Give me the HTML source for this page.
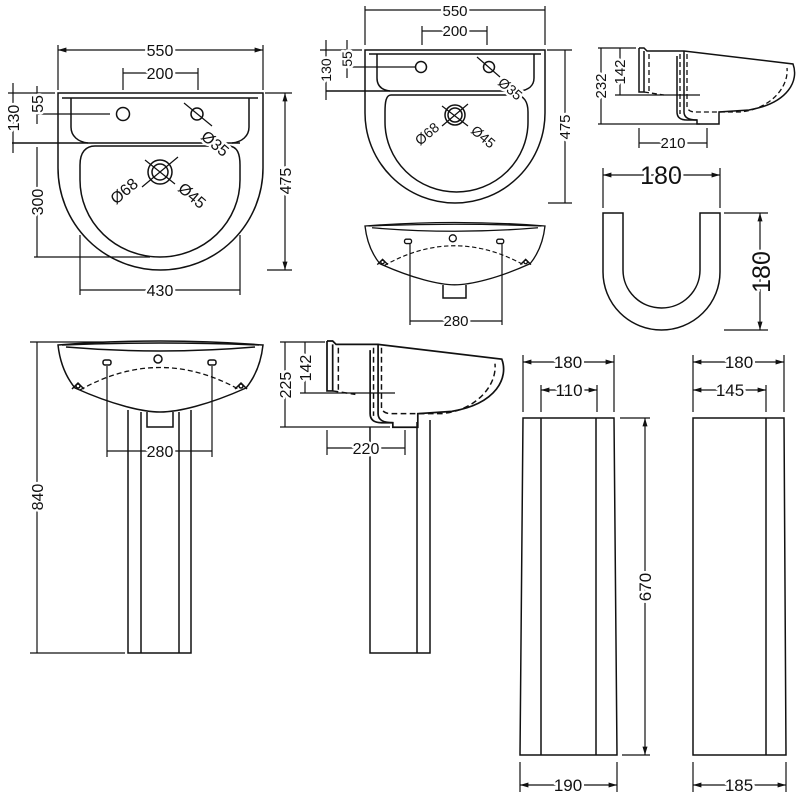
<!DOCTYPE html>
<html><head><meta charset="utf-8"><style>
html,body{margin:0;padding:0;background:#fff}
svg{display:block}
text{font-family:"Liberation Sans",Arial,sans-serif;font-size:16px;fill:#111;paint-order:stroke;stroke:#fff;stroke-width:5px;stroke-linejoin:round}
.l{fill:none;stroke:#111;stroke-width:1.5}
.d{fill:none;stroke:#111;stroke-width:1.3;stroke-dasharray:5 3}
.dim{fill:none;stroke:#111;stroke-width:1.2}
</style></head><body>
<svg width="800" height="800" viewBox="0 0 800 800" xmlns="http://www.w3.org/2000/svg">
<defs>
<marker id="a" viewBox="0 0 10 10" refX="10" refY="5" markerWidth="7" markerHeight="7" orient="auto-start-reverse"><path d="M0,2 L10,5 L0,8 Z" fill="#111"/></marker>
<g id="front">
 <path class="l" d="M0,0 C2,18 8,32 17,43 C55,60 85,67 102,67 C120,67 150,60 188,43 C197,32 203,18 205,0 Q102,-8 0,0 Z"/>
 <path class="l" d="M8,2 Q102,10 197,2"/>
 <path class="l" d="M4,0 Q102,-4 201,0"/>
 <rect class="l" x="45" y="15" width="8" height="5" rx="2"/>
 <rect class="l" x="150" y="15" width="8" height="5" rx="2"/>
 <circle class="l" cx="100" cy="14" r="4"/>
 <path class="d" d="M22,45 Q102,0 182,45"/>
 <path class="l" d="M14,44 L20,38 L26,44 M177,44 L183,38 L189,44"/>
 <circle class="l" cx="20" cy="41" r="2"/><circle class="l" cx="183" cy="41" r="2"/>
</g>
<g id="side">
 <path class="l" d="M0,0 H5 L8,3 H45 L154,16 C160,32 150,55 110,62 L80,64 V76 H58 V72 H48 C40,72 38,68 38,64 V8"/>
 <path class="l" d="M0,0 V44 H5 V3"/>
 <path class="l" d="M45,3 V64 C45,70 50,72 58,72"/>
 <path class="d" d="M10,6 V44 M48,6 V58 C48,62 52,64 56,64 H100 C130,62 150,40 148,20 M41,6 V66 M5,44 L25,47"/>
</g>
</defs>

<!-- ===== Panel 1 ===== -->
<path class="l" d="M58,93 H263 V168 A102.5,102 0 0 1 58,168 Z"/>
<path class="l" d="M62,98 H258"/>
<path class="l" d="M71,98 V127 C71,136 78,142 88,143 M249,98 V127 C249,136 242,142 232,143"/>
<path class="l" d="M12,143 H240"/>
<path class="l" d="M95,146 H228 C238,146 240,155 240,165 V180 A80,77 0 0 1 80,180 V165 C80,152 86,146 95,146 Z"/>
<circle class="l" cx="123" cy="114" r="6.5"/>
<circle class="l" cx="197" cy="114" r="6"/>
<path class="dim" d="M184,103 L212,126"/>
<circle class="l" cx="160" cy="172" r="12"/><circle class="l" cx="160" cy="172" r="8"/>
<path class="dim" d="M145,160 L175,184 M178,157 L142,187"/>
<text x="200" y="138" transform="rotate(40 200 138)">Ø35</text>
<text x="116" y="205" transform="rotate(-40 116 205)">Ø68</text>
<text x="177" y="190" transform="rotate(40 177 190)">Ø45</text>
<path class="dim" d="M58,45 V90 M263,45 V90 M123,68 V90 M198,68 V90"/>
<line class="dim" x1="58" y1="50" x2="263" y2="50" marker-start="url(#a)" marker-end="url(#a)"/>
<text x="160" y="56" text-anchor="middle">550</text>
<line class="dim" x1="123" y1="73" x2="198" y2="73"/>
<text x="160" y="79" text-anchor="middle">200</text>
<path class="dim" d="M265,93 H292 M267,270 H292"/>
<line class="dim" x1="285" y1="93" x2="285" y2="270" marker-start="url(#a)" marker-end="url(#a)"/>
<text x="291" y="181" text-anchor="middle" transform="rotate(-90 291 181)">475</text>
<path class="dim" d="M13,83 V153 M8,93 H55 M37,86 V124 M37,114 H110 M37,147 V257 M34,257 H150 M80,235 V295 M240,235 V295"/>
<text x="19" y="118" text-anchor="middle" transform="rotate(-90 19 118)">130</text>
<text x="43" y="104" text-anchor="middle" transform="rotate(-90 43 104)">55</text>
<text x="43" y="202" text-anchor="middle" transform="rotate(-90 43 202)">300</text>
<line class="dim" x1="80" y1="290" x2="240" y2="290"/>
<text x="160" y="296" text-anchor="middle">430</text>

<!-- ===== Panel 2 ===== -->
<path class="l" d="M365,50 H545 V113 A90,90 0 0 1 365,113 Z"/>
<path class="l" d="M369,54 H541"/>
<path class="l" d="M377,54 V78 C377,86 382,90 390,91 M534,54 V78 C534,86 528,90 520,91"/>
<path class="l" d="M326,91 H522"/>
<path class="l" d="M391,95 H515 C524,95 528,102 528,112 V122 A71.5,70 0 0 1 385,122 V112 C385,102 386,95 391,95 Z"/>
<circle class="l" cx="421" cy="67" r="5.5"/><circle class="l" cx="489" cy="67" r="5.5"/>
<path class="dim" d="M477,57 L500,77"/>
<circle class="l" cx="455" cy="115" r="10"/><circle class="l" cx="455" cy="115" r="7"/>
<path class="dim" d="M442,106 L468,126 M468,104 L442,126"/>
<text x="497" y="84" transform="rotate(40 497 84)" style="font-size:14px">Ø35</text>
<text x="420" y="146" transform="rotate(-40 420 146)" style="font-size:14px">Ø68</text>
<text x="470" y="132" transform="rotate(40 470 132)" style="font-size:14px">Ø45</text>
<path class="dim" d="M365,6 V45 M545,6 V45 M422,26 V45 M487,26 V45"/>
<line class="dim" x1="365" y1="10" x2="545" y2="10"/>
<text x="455" y="16" text-anchor="middle" style="font-size:15px">550</text>
<line class="dim" x1="422" y1="31" x2="487" y2="31"/>
<text x="455" y="36" text-anchor="middle" style="font-size:15px">200</text>
<path class="dim" d="M547,50 H572 M548,203 H572 M326,40 V100 M320,50 H362 M347,40 V78 M347,67 H415"/>
<line class="dim" x1="565" y1="50" x2="565" y2="203"/>
<text x="570" y="127" text-anchor="middle" transform="rotate(-90 570 127)" style="font-size:15px">475</text>
<text x="331" y="70" text-anchor="middle" transform="rotate(-90 331 70)" style="font-size:14px">130</text>
<text x="352" y="59" text-anchor="middle" transform="rotate(-90 352 59)" style="font-size:14px">55</text>

<!-- ===== Panel 3 ===== -->
<use href="#front" transform="translate(365,226) scale(0.878)"/>
<path class="l" d="M443,285 V298 H466 V285"/>
<path class="dim" d="M410,243 V325 M502,243 V325"/>
<line class="dim" x1="410" y1="321" x2="502" y2="321"/>
<text x="456" y="326" text-anchor="middle" style="font-size:15px">280</text>

<!-- ===== Panel 4 ===== -->
<use href="#side" transform="translate(639,48)"/>
<path class="dim" d="M598,48 H636 M598,124 H700 M615,95 H700 M639,128 V148 M707,128 V148"/>
<line class="dim" x1="601" y1="48" x2="601" y2="124"/>
<line class="dim" x1="620" y1="48" x2="620" y2="95"/>
<text x="606" y="86" text-anchor="middle" transform="rotate(-90 606 86)" style="font-size:15px">232</text>
<text x="625" y="72" text-anchor="middle" transform="rotate(-90 625 72)" style="font-size:15px">142</text>
<line class="dim" x1="639" y1="143" x2="707" y2="143"/>
<text x="673" y="148" text-anchor="middle" style="font-size:15px">210</text>

<!-- ===== Panel 5 ===== -->
<path class="l" d="M603,213 H623 V270 A38.5,38 0 0 0 700,270 V213 H720 V272 A58.5,58 0 0 1 603,272 Z"/>
<path class="dim" d="M603,168 V208 M720,168 V208 M724,213 H768 M724,330 H768"/>
<line class="dim" x1="603" y1="175" x2="720" y2="175" marker-start="url(#a)" marker-end="url(#a)"/>
<text x="661" y="184" text-anchor="middle" style="font-size:25px">180</text>
<line class="dim" x1="760" y1="213" x2="760" y2="330" marker-start="url(#a)" marker-end="url(#a)"/>
<text x="770" y="272" text-anchor="middle" transform="rotate(-90 770 272)" style="font-size:25px">180</text>

<!-- ===== Panel 6 ===== -->
<use href="#front" transform="translate(58,345)"/>
<path class="l" d="M128,410 V653 H191 V410 M141,412 V653 M179,412 V653"/>
<path class="l" d="M147,412 V427 H173 V412"/>
<path class="dim" d="M107,366 V457 M212,366 V457 M30,342 H110 M30,653 H125"/>
<line class="dim" x1="37" y1="342" x2="37" y2="653"/>
<text x="43" y="497" text-anchor="middle" transform="rotate(-90 43 497)">840</text>
<line class="dim" x1="107" y1="451" x2="212" y2="451"/>
<text x="160" y="457" text-anchor="middle">280</text>

<!-- ===== Panel 7 ===== -->
<use href="#side" transform="translate(327,341) scale(1.135)"/>
<path class="l" d="M370,427 V653 H430 V420 M417,422 V653"/>
<path class="dim" d="M280,342 H325 M280,427 H390 M300,393 H395 M327,430 V455 M405,430 V455"/>
<line class="dim" x1="285" y1="342" x2="285" y2="427"/>
<line class="dim" x1="305" y1="342" x2="305" y2="393"/>
<text x="291" y="385" text-anchor="middle" transform="rotate(-90 291 385)">225</text>
<text x="311" y="368" text-anchor="middle" transform="rotate(-90 311 368)">142</text>
<line class="dim" x1="327" y1="448" x2="405" y2="448"/>
<text x="366" y="454" text-anchor="middle">220</text>

<!-- ===== Panel 8 ===== -->
<path class="l" d="M523,418 H614 L617,755 H520 Z M541,418 V755 M596,418 V755"/>
<path class="dim" d="M523,355 V412 M614,355 V412 M541,385 V412 M597,385 V412 M620,418 H650 M622,755 H650 M520,762 V792 M617,762 V792"/>
<line class="dim" x1="523" y1="362" x2="614" y2="362" marker-start="url(#a)" marker-end="url(#a)"/>
<text x="568" y="368" text-anchor="middle" style="font-size:17px">180</text>
<line class="dim" x1="541" y1="390" x2="597" y2="390" marker-start="url(#a)" marker-end="url(#a)"/>
<text x="569" y="396" text-anchor="middle" style="font-size:17px">110</text>
<line class="dim" x1="645" y1="418" x2="645" y2="755" marker-start="url(#a)" marker-end="url(#a)"/>
<text x="651" y="587" text-anchor="middle" transform="rotate(-90 651 587)" style="font-size:17px">670</text>
<line class="dim" x1="520" y1="785" x2="617" y2="785" marker-start="url(#a)" marker-end="url(#a)"/>
<text x="568" y="791" text-anchor="middle" style="font-size:17px">190</text>

<!-- ===== Panel 9 ===== -->
<path class="l" d="M693,418 H784 L786,755 H693 Z M766,418 V755"/>
<path class="dim" d="M693,355 V412 M784,355 V412 M766,385 V412 M693,762 V792 M786,762 V792"/>
<line class="dim" x1="693" y1="362" x2="784" y2="362" marker-start="url(#a)" marker-end="url(#a)"/>
<text x="739" y="368" text-anchor="middle" style="font-size:17px">180</text>
<line class="dim" x1="693" y1="390" x2="766" y2="390" marker-start="url(#a)" marker-end="url(#a)"/>
<text x="730" y="396" text-anchor="middle" style="font-size:17px">145</text>
<line class="dim" x1="693" y1="785" x2="786" y2="785" marker-start="url(#a)" marker-end="url(#a)"/>
<text x="739" y="791" text-anchor="middle" style="font-size:17px">185</text>
</svg>
</body></html>
